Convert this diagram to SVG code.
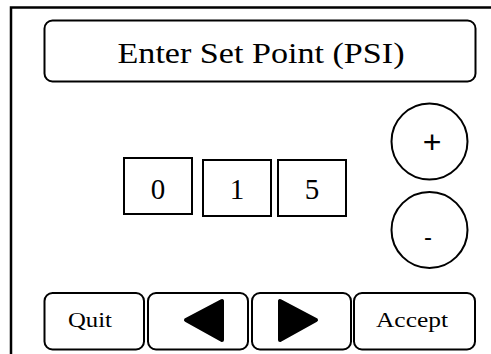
<svg xmlns="http://www.w3.org/2000/svg" width="491" height="354" viewBox="0 0 491 354">
<style>
.box{fill:#fff;stroke:#000;stroke-width:2}
.serif{font-family:"Liberation Serif","DejaVu Serif",serif;fill:#000;text-anchor:middle}
.sans{font-family:"Liberation Sans",Arial,sans-serif;fill:#000;text-anchor:middle}
.tri{fill:#000;stroke:#000;stroke-width:4;stroke-linejoin:round}
</style>
<rect width="491" height="354" fill="#fff"/>
<g id="frame"><path d="M11,354 V7.5 H491" fill="none" stroke="#000" stroke-width="2.5"/></g>
<g id="title"><rect class="box" x="44.5" y="20.5" width="431" height="61" rx="8"/><text class="serif" x="261" y="62.5" font-size="29" textLength="287" lengthAdjust="spacingAndGlyphs">Enter Set Point (PSI)</text></g>
<g id="digit0"><rect class="box" x="124" y="158" width="68" height="56"/><text class="serif" x="158" y="199" font-size="29">0</text></g>
<g id="digit1"><rect class="box" x="203" y="160" width="68" height="56"/><text class="serif" x="237" y="199" font-size="29">1</text></g>
<g id="digit2"><rect class="box" x="278" y="160" width="68" height="56"/><text class="serif" x="312" y="199" font-size="29">5</text></g>
<g id="plus"><circle class="box" cx="429.5" cy="141.5" r="38"/><text class="sans" x="432" y="153" font-size="32">+</text></g>
<g id="minus"><circle class="box" cx="429.5" cy="230" r="38"/><text class="sans" x="428" y="245" font-size="24">-</text></g>
<g id="quit"><rect class="box" x="44.5" y="293" width="99.5" height="56.5" rx="8"/><text class="serif" x="90" y="327" font-size="21" textLength="44" lengthAdjust="spacingAndGlyphs">Quit</text></g>
<g id="left"><rect class="box" x="148" y="293" width="100" height="56.5" rx="8"/><polygon class="tri" points="186,320 222,301 222,340"/></g>
<g id="right"><rect class="box" x="252" y="293" width="99" height="56.5" rx="8"/><polygon class="tri" points="280,301 280,340 316,320"/></g>
<g id="accept"><rect class="box" x="354" y="293" width="121" height="56.5" rx="8"/><text class="serif" x="412" y="327" font-size="21" textLength="72" lengthAdjust="spacingAndGlyphs">Accept</text></g>
<g id="connectors"></g>
</svg>
